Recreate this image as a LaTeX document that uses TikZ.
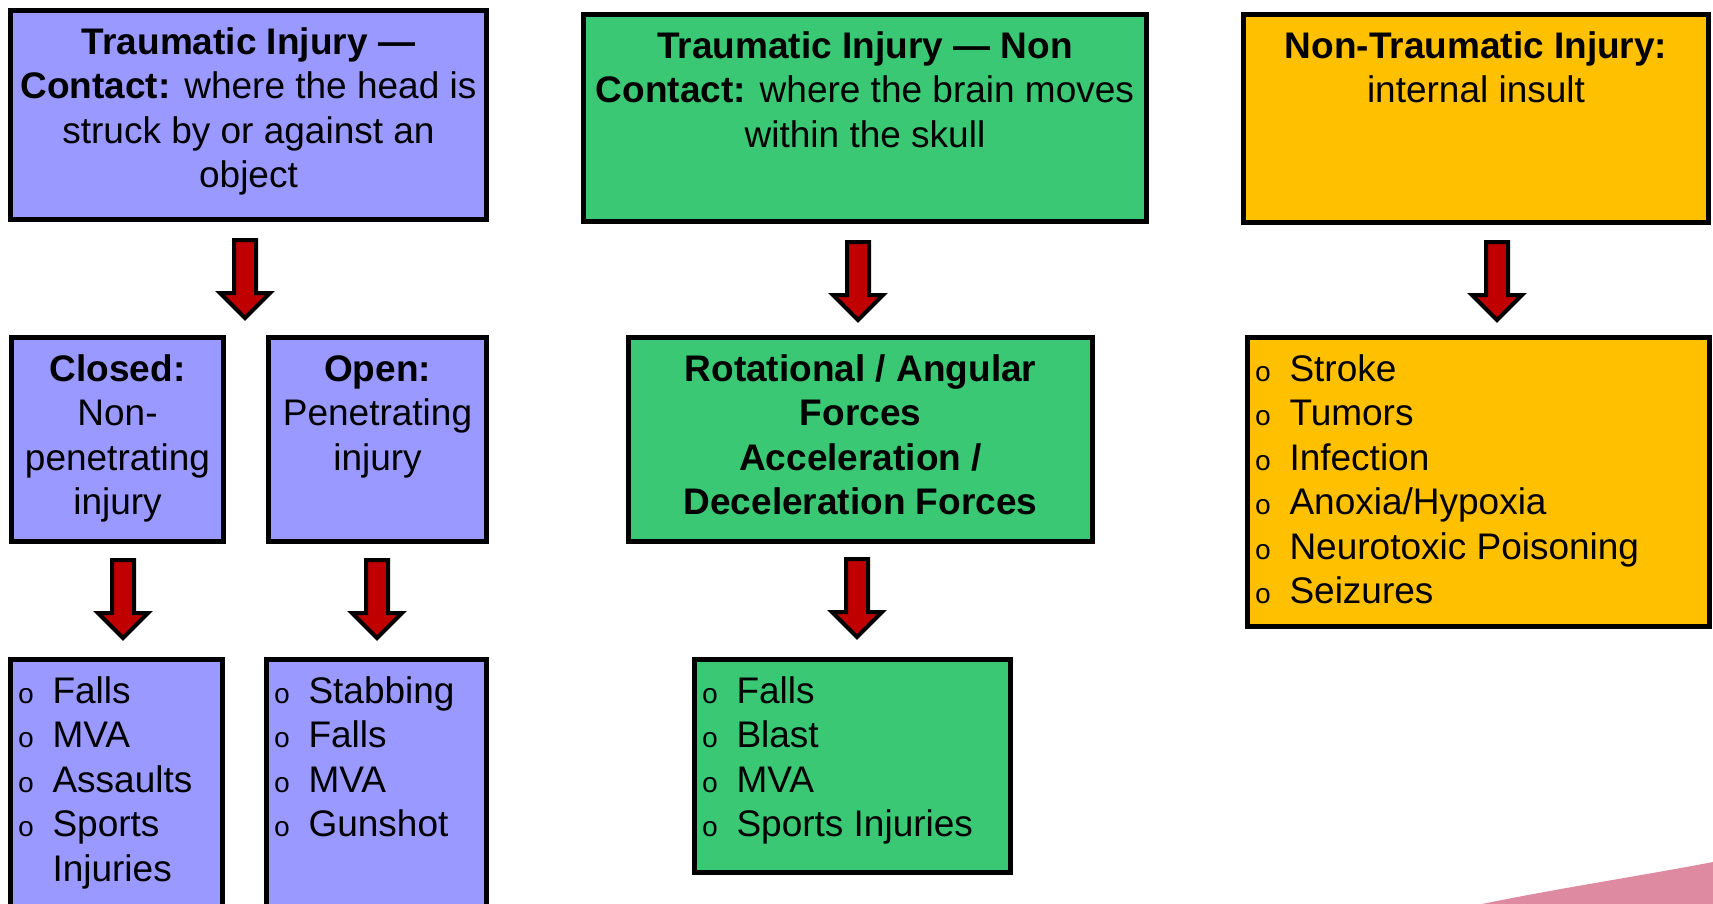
\documentclass[tikz,border=0pt]{standalone}
\usepackage{fontspec}
\setmainfont{Liberation Sans}
\newfontfamily\bulletfont{Liberation Mono}
\usetikzlibrary{calc}
\definecolor{boxblue}{RGB}{153,153,255}
\definecolor{boxgreen}{RGB}{58,200,116}
\definecolor{boxorange}{RGB}{255,192,0}
\definecolor{arrowred}{RGB}{192,0,0}
\definecolor{pinkshape}{RGB}{222,138,160}
\newcommand\bul{{\bulletfont\fontsize{28}{28}\selectfont o}}
\newcommand\itm[1]{\strut\hspace*{7.2pt}\makebox[34.8pt][l]{\bul}#1\\}
\newcommand\itmcont[1]{\strut\hspace*{42pt}#1\\}
\newcommand\headtxt[3]{\parbox[c][#2][t]{#1}{\centering\vspace*{12.5pt}\strut #3\par}}
\newcommand\listtxt[3]{\parbox[c][#2][t]{#1}{\raggedright\vspace*{12.35pt}#3}}
\newcommand\blockarrow[1]{\draw[barrow] #1 ++(-11,0) -- ++(0,53) -- ++(-14,0) -- ++(25,25) -- ++(25,-25) -- ++(-14,0) -- ++(0,-53) -- cycle;}
\begin{document}
\begin{tikzpicture}[x=1pt,y=-1pt,
  box/.style={draw=black, line width=5pt, inner sep=0pt, outer sep=0pt, font=\fontsize{37}{44.5}\selectfont},
  barrow/.style={draw=black, fill=arrowred, line width=4pt, line join=miter}]
\useasboundingbox (0,0) rectangle (1713,904);
\clip (0,0) rectangle (1713,904);
\fill[white] (0,0) rectangle (1713,904);
\fill[pinkshape] (1482,904) .. controls (1560,888) and (1640,876) .. (1713,862) -- (1713,904) -- cycle;

% top row
\node[box, fill=boxblue] (A) at (248.5,115) {\headtxt{476pt}{209pt}{\textbf{Traumatic Injury —}\\ \textbf{Contact:} where the head is\\ struck by or against an\\ object}};
\node[box, fill=boxgreen] (B) at (865,118) {\headtxt{563pt}{207pt}{\textbf{Traumatic Injury — Non}\\ \textbf{Contact:} where the brain moves\\ within the skull}};
\node[box, fill=boxorange] (C) at (1476,118.5) {\headtxt{465pt}{208pt}{\textbf{Non-Traumatic Injury:}\\ internal insult}};

% second row
\node[box, fill=boxblue] (closed) at (117.5,439.5) {\headtxt{212pt}{204pt}{\textbf{Closed:}\\ Non-\\ penetrating\\ injury}};
\node[box, fill=boxblue] (open) at (377.5,439.5) {\headtxt{218pt}{204pt}{\textbf{Open:}\\ Penetrating\\ injury}};
\node[box, fill=boxgreen] (rot) at (860.5,439.5) {\headtxt{464pt}{204pt}{\textbf{Rotational / Angular}\\ \textbf{Forces}\\ \textbf{Acceleration /}\\ \textbf{Deceleration Forces}}};
\node[box, fill=boxorange] (ntlist) at (1478.5,482) {\listtxt{462pt}{289pt}{\itm{Stroke}\itm{Tumors}\itm{Infection}\itm{Anoxia/Hypoxia}\itm{Neurotoxic Poisoning}\itm{Seizures}}};

% third row
\node[box, fill=boxblue] (closedlist) at (116.5,793.5) {\listtxt{212pt}{268pt}{\itm{Falls}\itm{MVA}\itm{Assaults}\itm{Sports}\itmcont{Injuries}}};
\node[box, fill=boxblue] (openlist) at (376.5,793.5) {\listtxt{220pt}{268pt}{\itm{Stabbing}\itm{Falls}\itm{MVA}\itm{Gunshot}}};
\node[box, fill=boxgreen] (rotlist) at (852.5,766) {\listtxt{316pt}{213pt}{\itm{Falls}\itm{Blast}\itm{MVA}\itm{Sports Injuries}}};

% block arrows
\blockarrow{($(A.south)+(-3.5,20.5)$)}
\blockarrow{($(B.south)+(-7,20.5)$)}
\blockarrow{($(C.south)+(21,19.5)$)}
\blockarrow{($(closed.south)+(5.5,18.5)$)}
\blockarrow{($(open.south)+(-0.5,18.5)$)}
\blockarrow{($(rot.south)+(-3.5,17.5)$)}
\end{tikzpicture}
\end{document}
